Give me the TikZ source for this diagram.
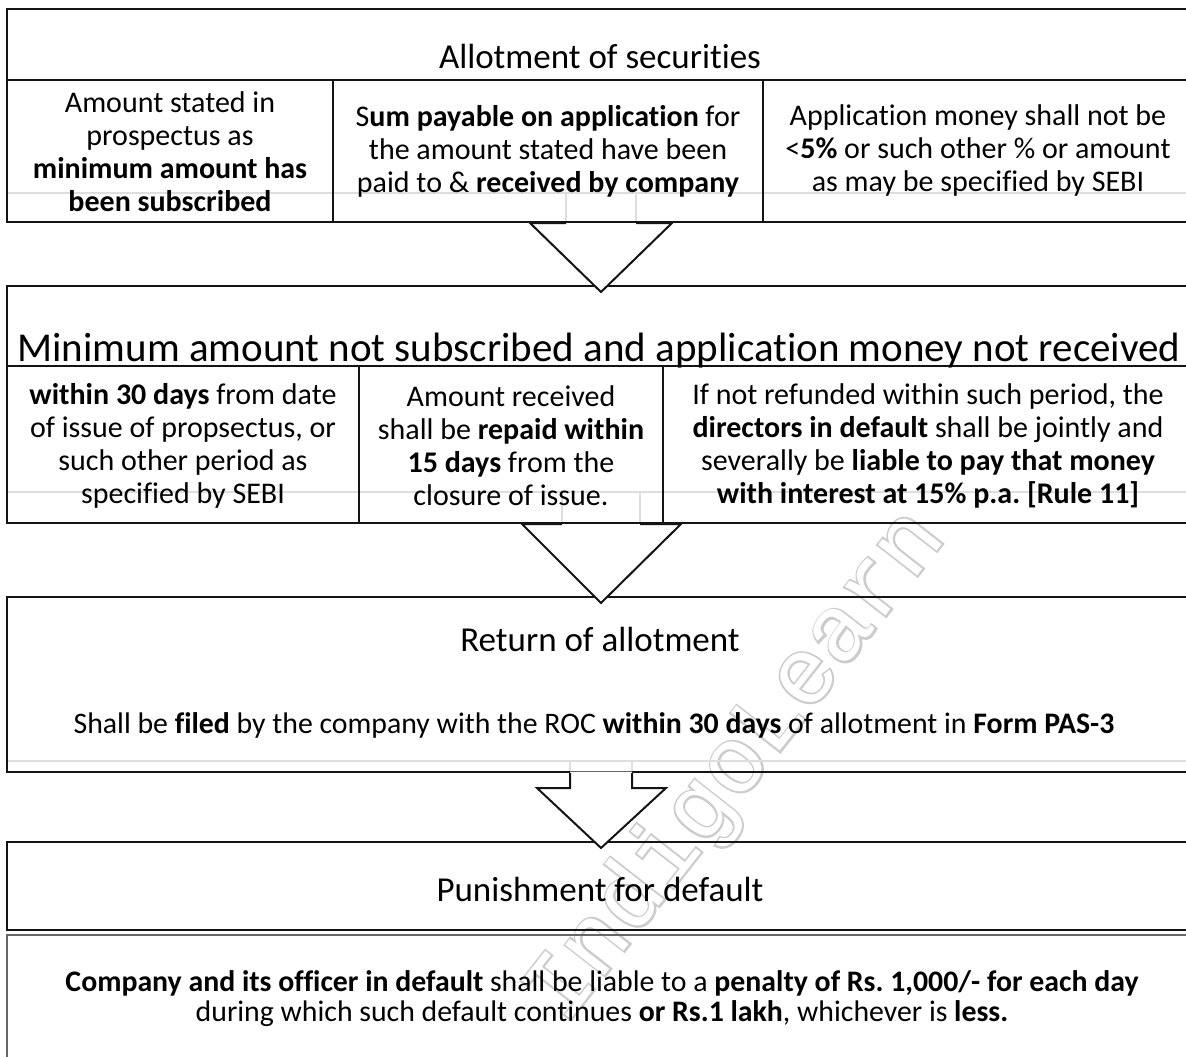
\documentclass[tikz,border=0pt]{standalone}
\usepackage{fontspec}
\setmainfont{Carlito}[Ligatures={NoCommon}]
\newfontfamily\wmfont{Liberation Mono}
\newfontfamily\wmbold[FakeBold=4]{Liberation Mono}
\usetikzlibrary{calc}
\frenchspacing

\tikzset{
  frame/.style={draw=black!92, line width=2pt},
  softframe/.style={draw=black!60, line width=2pt},
  ghost/.style={draw=black!13, line width=2pt},
  panel/.style={frame, rectangle, inner sep=0pt, minimum width=1186pt},
  cell/.style={align=center, inner sep=0pt, font=\fontsize{30}{33}\selectfont},
  head/.style={anchor=base, inner sep=0pt, font=\fontsize{35}{40}\selectfont},
  bigHead/.style={anchor=base, inner sep=0pt, font=\fontsize{41}{46}\selectfont},
  bodyline/.style={anchor=base, inner sep=0pt, font=\fontsize{29.8}{33}\selectfont},
  headfill/.style={fill=white},
  headline/.style={frame, line join=miter},
  wmark/.style={rotate=52, inner sep=0pt, font=\fontsize{94}{94}\selectfont},
}

\begin{document}
\begin{tikzpicture}[x=1pt,y=-1pt]
\useasboundingbox (0,0) rectangle (1186,1057);
\clip (0,0) rectangle (1186,1057);

% watermark: stroked grey letters with a white core give hollow type
\node[wmark, text=black!20] (wmo) at (737,767) {\wmbold IndigoLearn};
\node[wmark, text=white] (wmi) at (737,767) {\wmfont IndigoLearn};

% faint inner outlines and hidden arrow shafts
\draw[ghost] (7,193) -- (1193,193);
\draw[ghost] (566,193) -- (566,222) (636,193) -- (636,222);
\draw[ghost] (7,492) -- (1193,492);
\draw[ghost] (562,492) -- (562,523) (640,492) -- (640,523);
\draw[ghost] (7,761) -- (1193,761);
\draw[ghost] (570,761) -- (570,772) (632,761) -- (632,772);

% panels
\node[panel, minimum height=213pt] (b1) at (600,115.5) {};
\node[panel, minimum height=237pt] (b2) at (600,404.5) {};
\node[panel, minimum height=175pt] (b3) at (600,684.5) {};
\node[panel, minimum height=88pt]  (b4) at (600,886) {};
\node[panel, softframe, minimum height=140pt] (b5) at (600,1005) {};

% panel 1: header rule and column rules
\draw[frame] (7,80) -- (1193,80);
\draw[frame] (333,80) -- (333,222) (763,80) -- (763,222);
% panel 2: header rule and column rules
\draw[frame] (7,366) -- (1193,366);
\draw[frame] (359,366) -- (359,523) (663,366) -- (663,523);

% arrow 1 -> 2
\fill[headfill] ($(b1.south)+(-70,1.5)$) -- ($(b2.north)+(1,7)$) -- ($(b1.south)+(72,1.5)$) -- cycle;
\draw[headline] ($(b1.south)+(-34,0)$) -- ($(b1.south)+(-70,0)$) -- ($(b2.north)+(1,7)$)
  -- ($(b1.south)+(72,0)$) -- ($(b1.south)+(36,0)$);

% arrow 2 -> 3
\fill[headfill] ($(b2.south)+(-78,1.5)$) -- ($(b3.north)+(1,7)$) -- ($(b2.south)+(81,1.5)$) -- cycle;
\draw[headline] ($(b2.south)+(-38,0)$) -- ($(b2.south)+(-78,0)$) -- ($(b3.north)+(1,7)$)
  -- ($(b2.south)+(81,0)$) -- ($(b2.south)+(40,0)$);

% arrow 3 -> 4 (shaft visible below panel 3)
\fill[headfill] ($(b3.south)+(-30,-1.5)$) -- ($(b3.south)+(-30,15)$) -- ($(b3.south)+(-63,15)$)
  -- ($(b4.north)+(1,7)$) -- ($(b3.south)+(66,15)$) -- ($(b3.south)+(32,15)$)
  -- ($(b3.south)+(32,-1.5)$) -- cycle;
\draw[headline] ($(b3.south)+(-30,0)$) -- ($(b3.south)+(-30,15)$) -- ($(b3.south)+(-63,15)$)
  -- ($(b4.north)+(1,7)$) -- ($(b3.south)+(66,15)$) -- ($(b3.south)+(32,15)$)
  -- ($(b3.south)+(32,0)$);

% panel 1 texts
\node[head] (t1) at (600,69) {Allotment of securities};
\node[cell] (c11) at (170,152) {Amount stated in\\prospectus as\\\textbf{minimum amount has}\\\textbf{been subscribed}};
\node[cell] (c12) at (548,151) {S\textbf{um payable on application} for\\the amount stated have been\\paid to \& \textbf{received by company}};
\node[cell] (c13) at (978,151) {Application money shall not be\\<\textbf{5\%} or such other \% or amount\\as may be specified by SEBI};

% panel 2 texts
\node[bigHead] (t2) at (599,361) {Minimum amount not subscribed and application money not received};
\node[cell] (c21) at (183,446) {\textbf{within 30 days} from date\\of issue of propsectus, or\\such other period as\\specified by SEBI};
\node[cell] (c22) at (511,446) {Amount received\\shall be \textbf{repaid within}\\\textbf{15 days} from the\\closure of issue.};
\node[cell] (c23) at (928,446) {If not refunded within such period, the\\\textbf{directors in default} shall be jointly and\\severally be \textbf{liable to pay that money}\\\textbf{with interest at 15\% p.a. [Rule 11]}};

% panel 3 texts
\node[head] (t3) at (600,651) {Return of allotment};
\node[bodyline] (c31) at (594,733) {Shall be \textbf{filed} by the company with the ROC \textbf{within 30 days} of allotment in \textbf{Form PAS-3}};

% panel 4 and 5 texts
\node[head] (t4) at (600,901) {Punishment for default};
\node[bodyline] (c51) at (602,991) {\textbf{Company and its officer in default} shall be liable to a \textbf{penalty of Rs. 1,000/- for each day}};
\node[bodyline] (c52) at (602,1021) {during which such default continues \textbf{or Rs.1 lakh}, whichever is \textbf{less.}};
\end{tikzpicture}
\end{document}
